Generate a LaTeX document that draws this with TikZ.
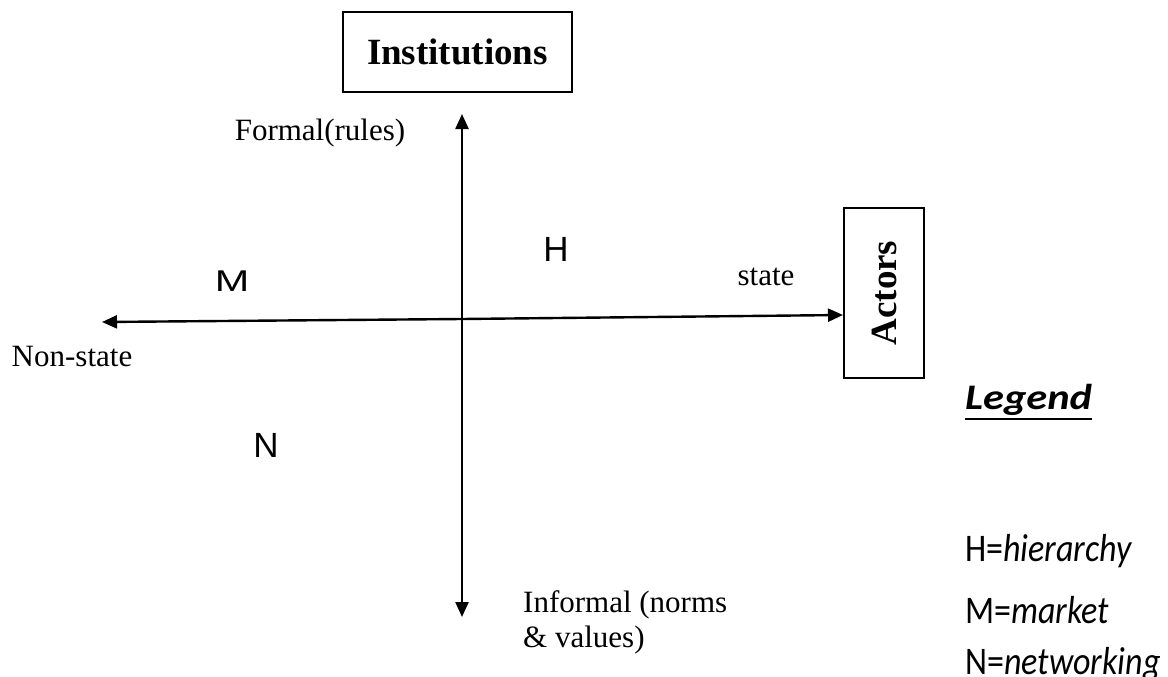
\documentclass[tikz,border=0pt]{standalone}
\usepackage{fontspec}
\setmainfont{Liberation Serif}
\newfontfamily\calib{Carlito}
\newfontfamily\arialf{Liberation Sans}
\usetikzlibrary{arrows.meta}
\tikzset{
  axis/.style={line width=2.4pt, -{Triangle[length=15pt,width=13pt]}},
  headbox/.style={draw, line width=2pt, font=\bfseries\fontsize{37}{40}\selectfont, inner sep=0pt},
  serif/.style={inner sep=0pt, font=\fontsize{31}{36}\selectfont},
  quad/.style={inner sep=0pt, font=\arialf\fontsize{35}{40}\selectfont},
  legend/.style={inner sep=0pt, anchor=west, font=\calib\fontsize{34}{38}\selectfont},
}
\begin{document}
\begin{tikzpicture}[x=1pt, y=-1pt]
\useasboundingbox (0,0) rectangle (1168,677);

% boxes
\node[headbox, minimum width=229pt, minimum height=80pt] (inst) at (457.5,52) {Institutions};
\node[headbox, minimum width=80pt, minimum height=170pt] (act) at (884,293) {\rotatebox{90}{Actors}};

% axis ends
\coordinate (top) at (462,114);
\coordinate (bot) at (462,617);
\coordinate (mid) at (462,319);
\coordinate (left) at (102,322);
\coordinate (right) at (act.west |- 0,315);

\draw[axis] (mid) -- (top);
\draw[axis] (mid) -- (bot);
\draw[axis] (mid) -- (left);
\draw[axis] (mid) -- (right);

% axis labels
\node[serif] (formal) at (320,133) {Formal(rules)};
\node[serif] (state) at (766,277) {state};
\node[serif] (nonstate) at (72,356) {Non-state};
\node[serif, anchor=west] (inf1) at (523,605) {Informal (norms};
\node[serif, anchor=west] (inf2) at (523,640) {\& values)};

% quadrant letters
\node[quad] (h) at (556,249) {H};
\node[quad, font=\arialf\fontsize{30}{34}\selectfont] (m) at (232,281) {\scalebox{1.38}[1]{M}};
\node[quad] (n) at (266,445) {N};

% legend
\node[legend, font=\calib\bfseries\itshape\fontsize{36}{40}\selectfont] (leg) at (965,400) {\scalebox{1.18}[1]{Legend}};
\draw[line width=2pt] (leg.west |- 0,419) -- (leg.east |- 0,419);
\node[legend] (lh) at (965,551) {\scalebox{1}[1.15]{H=\textit{hierarchy}}};
\node[legend] (lm) at (965,610) {\scalebox{1}[1.15]{M=\textit{market}}};
\node[legend] (ln) at (965,664) {\scalebox{1}[1.15]{N=\textit{networking}}};
\end{tikzpicture}
\end{document}
